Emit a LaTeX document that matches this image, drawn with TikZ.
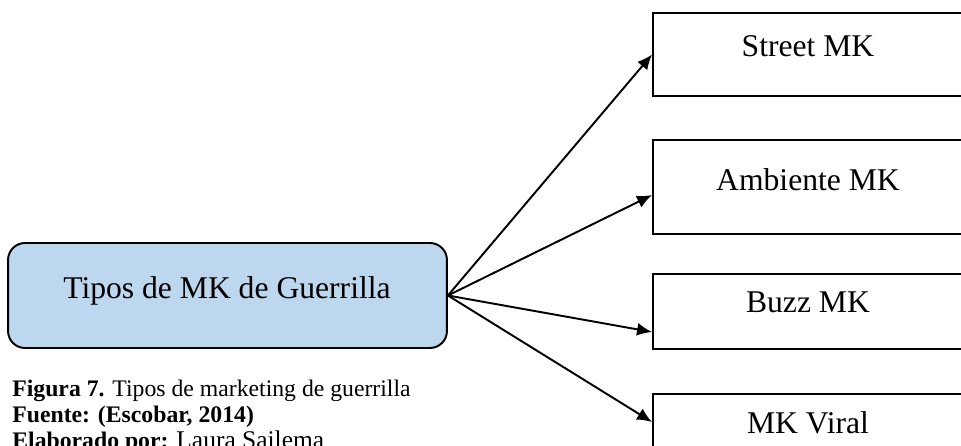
\documentclass[tikz,border=0pt]{standalone}
\usepackage{fontspec}
\setmainfont{Liberation Serif}
\usetikzlibrary{positioning, arrows.meta}
\definecolor{azulguerrilla}{RGB}{189,215,238}
\tikzset{>={Latex[length=0.3cm,width=0.26cm]},
    tipo/.style={draw, line width=1.1pt, minimum width=6.2cm, inner sep=0pt},
    rotulo/.style={font=\fontsize{18}{21}\selectfont, anchor=base, inner sep=0pt},
    pie/.style={font=\fontsize{13.5}{15}\selectfont, anchor=base west, inner sep=0pt},
    flecha/.style={->, line width=1.1pt}}

\begin{document}
\begin{tikzpicture}[x=0.02cm, y=-0.02cm]
    \clip (0,0) rectangle (961,446);
    \useasboundingbox (0,0) rectangle (961,446);
    % central box
    \node[tipo, rounded corners=0.34cm, fill=azulguerrilla, minimum width=8.78cm, minimum height=2.1cm] (tipos) at (227.5,295.5) {};
    \node[rotulo] (tipostxt) at (227,298) {Tipos de MK de Guerrilla};
    % the four types
    \node[tipo, minimum height=1.66cm] (street) at (808,54.5) {};
    \node[tipo, minimum height=1.88cm] (ambiente) at (808,187) {};
    \node[tipo, minimum height=1.5cm] (buzz) at (808,311.5) {};
    \node[tipo, minimum height=2cm] (viral) at (808,444) {};
    \node[rotulo] (streettxt) at (808,57) {Street MK};
    \node[rotulo] (ambientetxt) at (808,191) {Ambiente MK};
    \node[rotulo] (buzztxt) at (808,313) {Buzz MK};
    \node[rotulo] (viraltxt) at (808,433) {MK Viral};
    \draw[flecha] (tipos.east) -- (street.west);
    \draw[flecha] (tipos.east) -- ([yshift=-0.16cm]ambiente.west);
    \draw[flecha] (tipos.east) -- ([yshift=-0.41cm]buzz.west);
    \draw[flecha] (tipos.east) -- ([yshift=-0.58cm]viral.north west);
    % caption
    \node[pie] (figura) at (12,396) {\textbf{Figura 7.} Tipos de marketing de guerrilla};
    \node[pie] (fuente) at (12,422) {\textbf{Fuente: (Escobar, 2014)}};
    \node[pie] (elaborado) at (12,448) {\textbf{Elaborado por:} {\fontsize{14.5}{16}\selectfont Laura Sailema}};
\end{tikzpicture}
\end{document}
